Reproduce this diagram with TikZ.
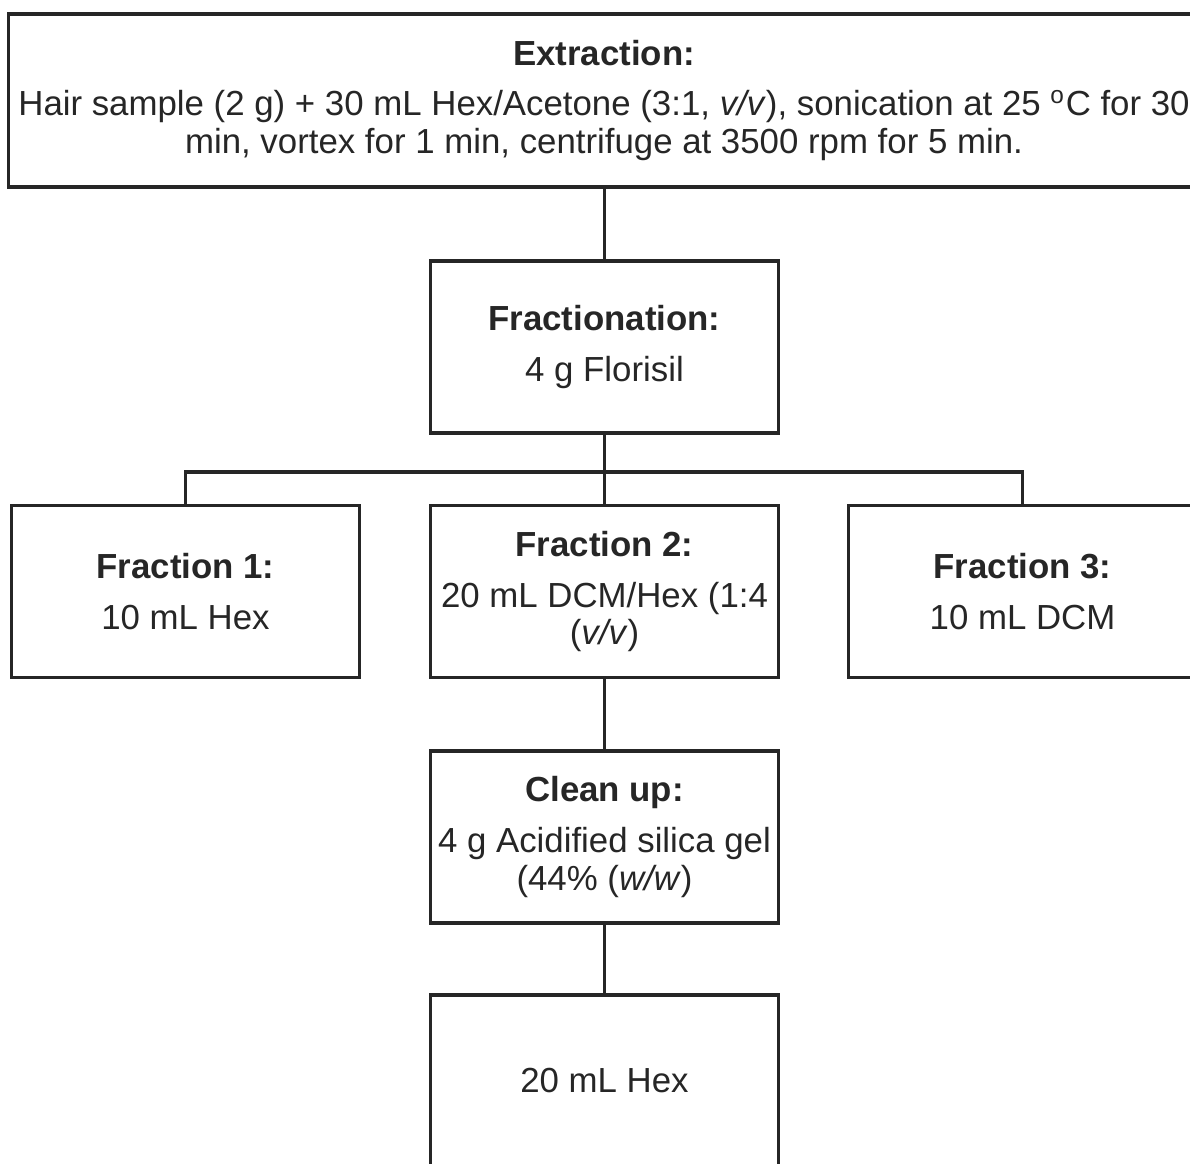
\documentclass[tikz,border=0pt]{standalone}
\usepackage{fontspec}
\setmainfont{Liberation Sans}
\begin{document}
\begin{tikzpicture}[x=0.01cm, y=-0.01cm, line width=0.9pt, draw=black!85,
    stepbox/.style={draw=black!85, fill=white, align=center, inner sep=0pt,
      minimum width=3.47cm, minimum height=1.72cm, text=black!85,
      font=\fontsize{9.9}{10.8}\selectfont}]
  % page frame (the figure is cut at its right and lower edges)
  \useasboundingbox (0,0) rectangle (1190,1164);
  \clip (0,0) rectangle (1190,1164);
  % boxes
  \node[stepbox, minimum width=11.9cm, minimum height=1.73cm] (extr) at (604,100.5)
    {\textbf{Extraction:}\\[3.7pt]
     Hair sample (2 g) + 30 mL Hex/Acetone (3:1, \emph{v/v}), sonication at 25 \textsuperscript{o}C for 30\\
     min, vortex for 1 min, centrifuge at 3500 rpm for 5 min.};
  \node[stepbox] (frac) at (604.5,347) {\textbf{Fractionation:}\\[3.7pt] 4 g Florisil};
  \node[stepbox] (f1) at (185.5,591.5) {\textbf{Fraction 1:}\\[3.7pt] 10 mL Hex};
  \node[stepbox] (f2) at (604.5,591.5)
    {\textbf{Fraction 2:}\\[3.7pt] 20 mL DCM/Hex (1:4\\ (\emph{v/v})};
  \node[stepbox] (f3) at (1022.5,591.5) {\textbf{Fraction 3:}\\[3.7pt] 10 mL DCM};
  \node[stepbox] (clean) at (604.5,837)
    {\textbf{Clean up:}\\[3.7pt] 4 g Acidified silica gel\\ (44\% (\emph{w/w})};
  \node[stepbox] (hex) at (604.5,1081) {20 mL Hex};
  % connectors
  \coordinate (bus) at (604.5,472);
  \draw (extr.south -| frac.north) -- (frac.north);
  \draw (frac.south) -- (f2.north);
  \draw (f1.north) |- (bus) -| (f3.north);
  \draw (f2.south) -- (clean.north);
  \draw (clean.south) -- (hex.north);
\end{tikzpicture}
\end{document}
